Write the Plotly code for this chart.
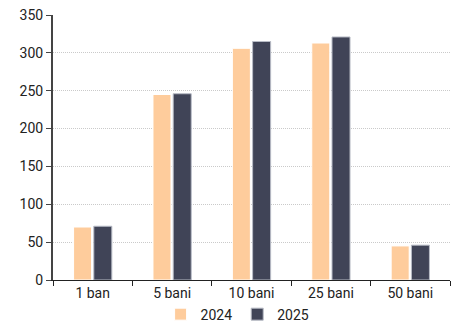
import plotly.graph_objects as go

categories = ["1 ban", "5 bani", "10 bani", "25 bani", "50 bani"]
vals_2024 = [70, 245, 306, 313, 45]
vals_2025 = [71, 246, 315, 321, 46]

fig = go.Figure(data=[
    go.Bar(name="2024", x=categories, y=vals_2024, marker_color="#FECC9C",
           marker_line=dict(color="#FFFFFF", width=1)),
    go.Bar(name="2025", x=categories, y=vals_2025, marker_color="#404457",
           marker_line=dict(color="#B8BCC6", width=1)),
])

fig.update_layout(
    width=451, height=324,
    margin=dict(l=53, r=1, t=15, b=44, autoexpand=False),
    plot_bgcolor="white", paper_bgcolor="white",
    barmode="group", bargap=0.49, bargroupgap=0.11,
    font=dict(family="Roboto", size=14, color="#222222"),
    legend=dict(orientation="h", x=0.465, xanchor="center", y=-0.07, yanchor="top",
                font=dict(size=14), itemwidth=30, traceorder="normal",
                tracegroupgap=0, bgcolor="rgba(0,0,0,0)"),
    showlegend=True,
)
fig.update_xaxes(showline=True, linecolor="#222222", linewidth=1,
                 ticks="outside", tickson="boundaries", ticklen=5, tickcolor="#222222",
                 showgrid=False)
fig.update_yaxes(range=[0, 350], dtick=50, showline=True, linecolor="#444444", linewidth=2,
                 ticks="outside", ticklen=5, tickcolor="#444444",
                 showgrid=True, gridcolor="#CACACA", griddash="1px,1px", gridwidth=1,
                 zeroline=False)

# page has a default body margin, drop it so the chart sits at 0,0
fig.write_html("out.html", config={"displayModeBar": False},
               post_script="document.body.style.margin='0';")
